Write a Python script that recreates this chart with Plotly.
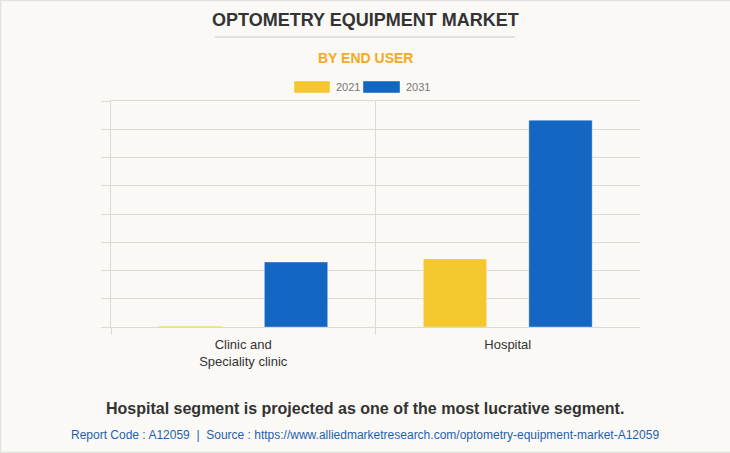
import plotly.graph_objects as go

categories = ["Clinic and<br>Speciality clinic", "Hospital"]
years = ["2021", "2031"]
values_2021 = [15, 1205]
values_2031 = [1150, 3660]
colors = {"2021": "#F4C72F", "2031": "#1366C1"}

x_pos = list(range(len(categories)))

W, H = 730, 453
L, R, T, B = 111, 90, 101, 126
PH = H - T - B


def py(pix):
    return (H - B - pix) / PH


def px(pix):
    return (pix - L) / (W - L - R)


fig = go.Figure()
for yr, vals in zip(years, [values_2021, values_2031]):
    fig.add_trace(go.Bar(
        x=x_pos, y=vals, name=yr,
        marker=dict(color=colors[yr], line=dict(color="rgba(255,255,255,0.35)", width=1)),
        hoverinfo="skip", showlegend=False,
    ))

grid = "#dcdad5"
fig.update_layout(
    width=W, height=H,
    paper_bgcolor="#faf9f5", plot_bgcolor="#faf9f5",
    margin=dict(l=L, r=R, t=T, b=B),
    barmode="group", bargap=0.202, bargroupgap=0.4,
    font=dict(family="Liberation Sans, Arial, sans-serif", color="#333333"),
    showlegend=False,
    xaxis=dict(
        range=[-0.5, 1.5], tickvals=x_pos, ticktext=categories,
        showgrid=False, zeroline=False, ticks="",
        showline=True, mirror=True, linecolor=grid, linewidth=1,
        tickfont=dict(size=13, color="#333333"), ticklabelstandoff=5,
        minor=dict(tickvals=[-0.5, 0.5], showgrid=True, gridcolor=grid, gridwidth=1,
                   ticks="outside", ticklen=7, tickcolor=grid),
        fixedrange=True,
    ),
    yaxis=dict(
        range=[0, 4000], dtick=500, showticklabels=False,
        showgrid=True, gridcolor=grid, gridwidth=1,
        ticks="outside", ticklen=9, tickcolor=grid,
        showline=True, linecolor=grid, linewidth=1,
        zeroline=True, zerolinecolor=grid, zerolinewidth=1,
        fixedrange=True,
    ),
)

# light frame around the card (top, left, bottom)
frame = "#e2e2e2"
for (x0, y0, x1, y1) in [(0, 0.5, W, 0.5), (0.5, 0, 0.5, H), (0, H - 0.5, W, H - 0.5)]:
    fig.add_shape(type="line", xref="paper", yref="paper", x0=px(x0), x1=px(x1),
                  y0=py(y0), y1=py(y1), line=dict(color=frame, width=1.5))

# custom legend (large swatches like the reference)
legend_items = [("2021", 294, 330, 334), ("2031", 363, 400, 404)]
for name, x0, x1, tx in legend_items:
    fig.add_shape(type="rect", xref="paper", yref="paper", x0=px(x0), x1=px(x1),
                  y0=py(93), y1=py(81), fillcolor=colors[name],
                  line=dict(color="rgba(255,255,255,0.4)", width=1))
    fig.add_annotation(text=name, x=px(tx), xref="paper", xanchor="left", y=py(87), yref="paper",
                       yanchor="middle", showarrow=False, font=dict(size=11, color="#777777"))

cx = px(365)
fig.add_annotation(text="<b>OPTOMETRY EQUIPMENT MARKET</b>", x=cx, xref="paper", y=py(20), yref="paper",
                   yanchor="middle", showarrow=False, font=dict(size=18, color="#333333"))
fig.add_shape(type="line", xref="paper", yref="paper", x0=px(215), x1=px(515),
              y0=py(37), y1=py(37), line=dict(color="#c8c8c8", width=1))
fig.add_annotation(text="<b>BY END USER</b>", x=cx, xref="paper", y=py(58), yref="paper",
                   yanchor="middle", showarrow=False, font=dict(size=14, color="#F7A823"))
fig.add_annotation(text="<b>Hospital segment is projected as one of the most lucrative segment.</b>",
                   x=cx, xref="paper", y=py(408), yref="paper", yanchor="middle",
                   showarrow=False, font=dict(size=16, color="#333333"))
fig.add_annotation(text="Report Code : A12059  |  Source : https://www.alliedmarketresearch.com/optometry-equipment-market-A12059",
                   x=cx, xref="paper", y=py(435), yref="paper", yanchor="middle",
                   showarrow=False, font=dict(size=12, color="#1F5FAF"))

fig.write_html("out.html", config={"displayModeBar": False},
               post_script="document.body.style.margin='0';")
